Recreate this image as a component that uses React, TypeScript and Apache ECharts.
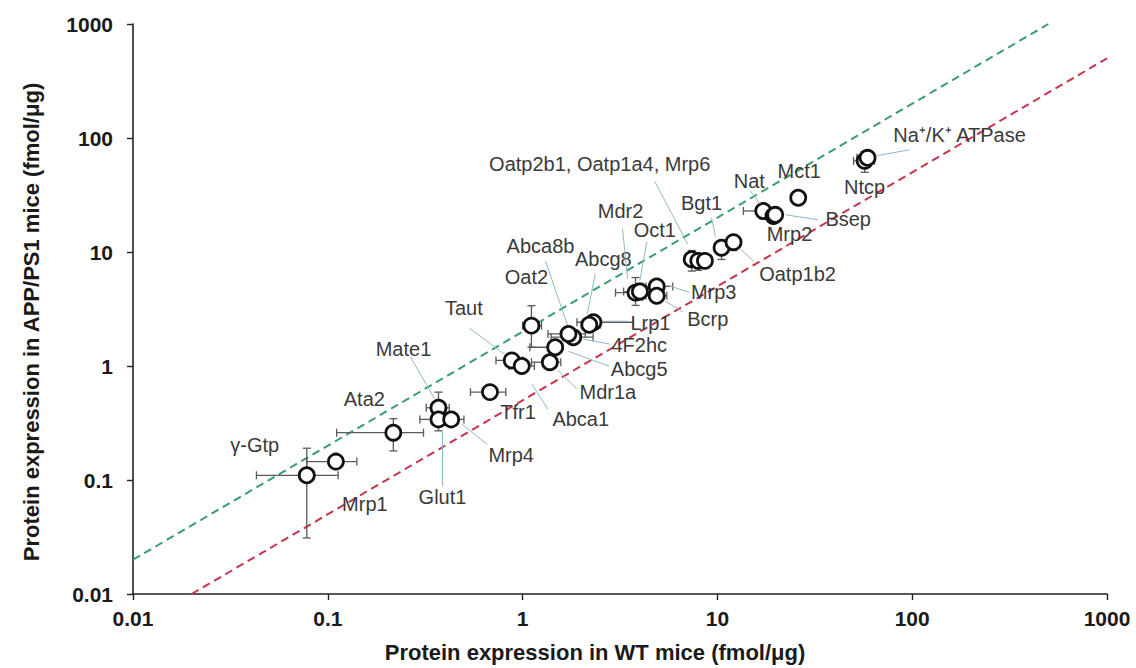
import React, { useEffect, useRef } from "react";
import * as echarts from "echarts";

// ---- Data ----
const proteins = [
  "γ-Gtp", "Mrp1", "Ata2", "Mate1", "Glut1", "Mrp4", "Tfr1", "Taut", "Abca1", "Mdr1a",
  "Abcg5", "4F2hc", "Abca8b", "Oat2", "Lrp1", "Abcg8", "Mdr2", "Oct1", "Mrp3", "Bcrp",
  "Oatp2b1", "Oatp1a4", "Mrp6", "Bgt1", "Oatp1b2", "Nat", "Mrp2", "Bsep", "Mct1", "Ntcp",
  "Na⁺/K⁺ ATPase",
];
// Protein expression in WT mice (fmol/µg)
const wtMean = [0.078, 0.11, 0.217, 0.37, 0.37, 0.43, 0.68, 0.88, 0.99, 1.38, 1.47, 1.82, 1.72, 1.11, 2.31, 2.2, 3.8, 4.0, 4.88, 4.88, 7.38, 7.98, 8.63, 10.5, 12.1, 17.2, 19.4, 19.8, 26.0, 57, 59];
const wtLow = [0.043, 0.078, 0.111, 0.32, 0.297, 0.38, 0.54, 0.73, 0.85, 1.11, 1.09, 1.4, 1.35, 1.0, 1.9, 2.0, 3.0, 3.3, 4.3, 4.3, 6.9, 7.5, 8.0, 9.8, 11.5, 13.6, 17.5, 18.5, 26.0, 50, 52];
const wtHigh = [0.113, 0.141, 0.31, 0.42, 0.42, 0.5, 0.82, 1.0, 1.15, 1.57, 1.6, 2.3, 2.1, 1.25, 3.7, 2.5, 4.6, 4.8, 5.9, 5.5, 7.9, 8.5, 9.3, 11.3, 12.8, 19.5, 21, 21, 26.0, 64, 64];
// Protein expression in APP/PS1 mice (fmol/µg)
const appMean = [0.11, 0.145, 0.26, 0.43, 0.34, 0.34, 0.59, 1.12, 1.0, 1.08, 1.46, 1.79, 1.91, 2.26, 2.42, 2.3, 4.4, 4.5, 4.99, 4.13, 8.65, 8.36, 8.36, 10.9, 12.2, 22.9, 20.7, 21.2, 29.9, 63, 67];
const appLow = [0.031, 0.135, 0.18, 0.33, 0.27, 0.3, 0.53, 1.0, 0.9, 0.95, 1.3, 1.6, 1.7, 1.46, 2.2, 2.1, 3.4, 3.8, 4.5, 3.7, 6.8, 6.9, 7.5, 8.6, 10.3, 19.5, 18.8, 19.5, 29.9, 50, 58];
const appHigh = [0.19, 0.155, 0.345, 0.59, 0.4, 0.38, 0.66, 1.25, 1.1, 1.2, 1.6, 2.0, 2.1, 3.38, 2.65, 2.5, 5.97, 5.3, 5.5, 4.6, 10.3, 9.5, 9.3, 12.5, 14.0, 25, 22.5, 23, 29.9, 76, 72];

// Reference lines: APP/PS1 = 2 x WT and APP/PS1 = 0.5 x WT
const upperLineX = [0.01, 500];
const upperLineY = [0.02, 1000];
const lowerLineX = [0.02, 1000];
const lowerLineY = [0.01, 500];

const xTicks = ["0.01", "0.1", "1", "10", "100", "1000"];
const yTicks = ["0.01", "0.1", "1", "10", "100", "1000"];

// ---- Annotation layout (text shown, offset of label centre from its point, leader line) ----
const labelTexts = proteins.map((p, i) =>
  i === 20 ? "Oatp2b1, Oatp1a4, Mrp6" : i === 21 || i === 22 ? "" : p
);
const labelOffsets: number[][] = [
  [-52, -30], [29, 42], [-29, -34], [-35, -59], [4, 78], [60, 36], [28, 20], [-48, -52], [59, 53], [58, 30],
  [84, 22], [66, 8], [-28, -88], [-5, -49], [57, 1], [14, -66], [-15, -82], [15, -62], [57, 6], [51, 23],
  [-92, -95], [0, 0], [0, 0], [-20, -45], [64, 32], [-14, -30], [16, 18], [73, 4], [1, -27], [0, 26],
  [92, -23],
];
const leaderLines: (number[] | null)[] = [
  null, null, null, [-28, -51, -4, -9], [4, 67, 4, 12], [36, 25, 11, 5], null, [-42, -32, -7, -6], [26, 43, 10, 18], [27, 27, 8, 8],
  [54, 19, 13, 4], [37, 7, 10, 2], [-23, -73, -1, -9], null, [35, -1, 10, -1], [6, -51, -2, -11], [-13, -64, -8, -14], [7, -50, 0, -11], [33, 6, 11, -1], [26, 16, 8, 5],
  [-37, -78, -4, -15], null, null, [-10, -30, -6, -11], [20, 19, 7, 7], [-13, -20, -3, -7], null, [43, 5, 10, 0], null, null,
  [42, -8, 8, -2],
];

const FONT = "'Liberation Sans', Arial, Helvetica, sans-serif";

export default function App() {
  const ref = useRef<HTMLDivElement>(null);

  useEffect(() => {
    document.body.style.margin = "0";
    if (!ref.current) return;
    const chart = echarts.init(ref.current, null, { renderer: "svg" });

    const points = wtMean.map((x, i) => [x, appMean[i]]);
    const errData = wtMean.map((x, i) => [x, appMean[i], wtLow[i], wtHigh[i], appLow[i], appHigh[i]]);
    const annData = wtMean.map((x, i) => [x, appMean[i], i]);

    const errColor = "#5a5a5a";
    const cap = 4;

    const option: any = {
      animation: false,
      backgroundColor: "#ffffff",
      grid: { left: 133, right: 29, top: 24, bottom: 72, containLabel: false },
      xAxis: {
        type: "log",
        logBase: 10,
        min: 0.01,
        max: 1000,
        name: "Protein expression in WT mice (fmol/μg)",
        nameLocation: "middle",
        nameGap: 47,
        nameTextStyle: { fontFamily: FONT, fontWeight: "bold", fontSize: 22, color: "#1a1a1a", padding: [0, 50, 0, 0] },
        axisLine: { show: true, onZero: false, lineStyle: { color: "#222", width: 1.6 } },
        axisTick: { show: true, inside: false, length: 6, lineStyle: { color: "#222", width: 1.4 } },
        minorTick: { show: false },
        splitLine: { show: false },
        axisLabel: {
          fontFamily: FONT, fontWeight: "bold", fontSize: 21, color: "#1a1a1a", margin: 14,
          formatter: (v: number) => xTicks[Math.round(Math.log10(v)) + 2] ?? "",
        },
      },
      yAxis: {
        type: "log",
        logBase: 10,
        min: 0.01,
        max: 1000,
        name: "Protein expression in APP/PS1 mice (fmol/μg)",
        nameLocation: "middle",
        nameGap: 91,
        nameRotate: 90,
        nameTextStyle: { fontFamily: FONT, fontWeight: "bold", fontSize: 22, color: "#1a1a1a", padding: [0, 26, 0, 0] },
        axisLine: { show: true, onZero: false, lineStyle: { color: "#222", width: 1.6 } },
        axisTick: { show: true, inside: false, length: 6, lineStyle: { color: "#222", width: 1.4 } },
        minorTick: { show: false },
        splitLine: { show: false },
        axisLabel: {
          fontFamily: FONT, fontWeight: "bold", fontSize: 21, color: "#1a1a1a", margin: 20,
          formatter: (v: number) => yTicks[Math.round(Math.log10(v)) + 2] ?? "",
        },
      },
      series: [
        {
          type: "line",
          data: upperLineX.map((x, i) => [x, upperLineY[i]]),
          symbol: "none",
          silent: true,
          z: 1,
          lineStyle: { color: "#3a9d70", width: 2, type: [8, 5] },
        },
        {
          type: "line",
          data: lowerLineX.map((x, i) => [x, lowerLineY[i]]),
          symbol: "none",
          silent: true,
          z: 1,
          lineStyle: { color: "#c8344c", width: 2, type: [8, 5] },
        },
        {
          type: "custom",
          z: 2,
          silent: true,
          data: errData,
          encode: { x: 0, y: 1 },
          renderItem: (params: any, api: any) => {
            const y = api.value(1);
            const x = api.value(0);
            const xl = api.coord([api.value(2), y]);
            const xh = api.coord([api.value(3), y]);
            const yl = api.coord([x, api.value(4)]);
            const yh = api.coord([x, api.value(5)]);
            const st = { stroke: errColor, lineWidth: 1.3 };
            const children: any[] = [];
            if (Math.abs(xh[0] - xl[0]) > 1) {
              children.push({ type: "line", shape: { x1: xl[0], y1: xl[1], x2: xh[0], y2: xh[1] }, style: st });
              children.push({ type: "line", shape: { x1: xl[0], y1: xl[1] - cap, x2: xl[0], y2: xl[1] + cap }, style: st });
              children.push({ type: "line", shape: { x1: xh[0], y1: xh[1] - cap, x2: xh[0], y2: xh[1] + cap }, style: st });
            }
            if (Math.abs(yh[1] - yl[1]) > 1) {
              children.push({ type: "line", shape: { x1: yl[0], y1: yl[1], x2: yh[0], y2: yh[1] }, style: st });
              children.push({ type: "line", shape: { x1: yl[0] - cap, y1: yl[1], x2: yl[0] + cap, y2: yl[1] }, style: st });
              children.push({ type: "line", shape: { x1: yh[0] - cap, y1: yh[1], x2: yh[0] + cap, y2: yh[1] }, style: st });
            }
            return { type: "group", children };
          },
        },
        {
          type: "scatter",
          z: 3,
          data: points,
          symbol: "circle",
          symbolSize: 15,
          itemStyle: { color: "#ffffff", borderColor: "#111111", borderWidth: 2.8, opacity: 1 },
        },
        {
          type: "custom",
          z: 4,
          silent: true,
          data: annData,
          encode: { x: 0, y: 1 },
          renderItem: (params: any, api: any) => {
            const idx = api.value(2);
            const text = labelTexts[idx];
            if (!text) return { type: "group", children: [] };
            const p = api.coord([api.value(0), api.value(1)]);
            const off = labelOffsets[idx];
            const children: any[] = [];
            const ln = leaderLines[idx];
            if (ln) {
              children.push({
                type: "line",
                shape: { x1: p[0] + ln[0], y1: p[1] + ln[1], x2: p[0] + ln[2], y2: p[1] + ln[3] },
                style: { stroke: "#8fb8cc", lineWidth: 1 },
              });
            }
            children.push({
              type: "text",
              x: p[0] + off[0],
              y: p[1] + off[1],
              style: {
                text,
                fill: "#3a3a3a",
                font: `20px ${FONT}`,
                align: "center",
                verticalAlign: "middle",
                textAlign: "center",
                textVerticalAlign: "middle",
              },
            });
            return { type: "group", children };
          },
        },
      ],
    };

    chart.setOption(option);
    return () => chart.dispose();
  }, []);

  return <div ref={ref} style={{ width: 1136, height: 668 }} />;
}
